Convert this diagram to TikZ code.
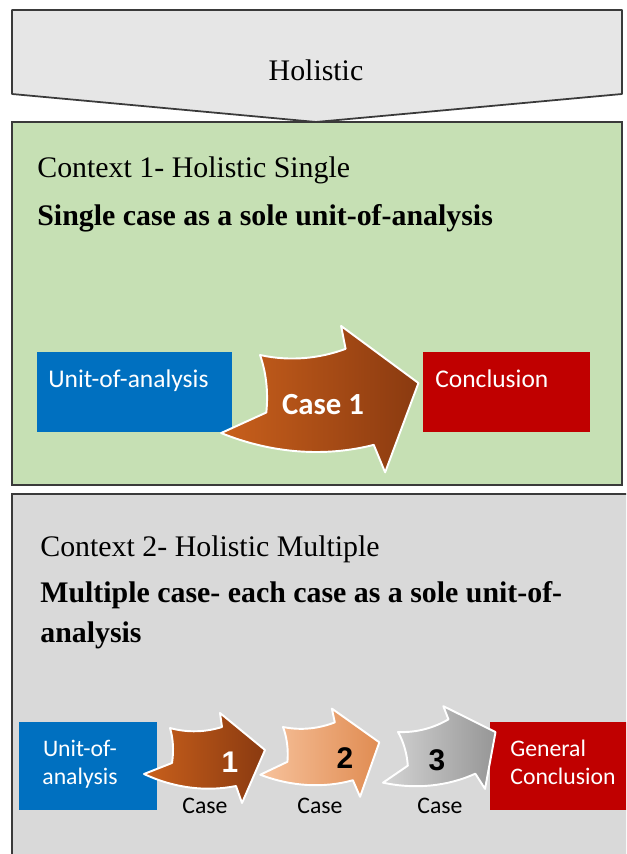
\documentclass[tikz,border=0pt]{standalone}
\usepackage{fontspec}
\setmainfont{Liberation Serif}
\newfontfamily\calibri{Carlito}
\newfontfamily\arialfont{Liberation Sans}
\usetikzlibrary{calc}

\definecolor{chevgray}{HTML}{E6E6E6}
\definecolor{ctxgreen}{HTML}{C6E0B4}
\definecolor{ctxgray}{HTML}{D9D9D9}
\definecolor{edgegray}{HTML}{3A3A3A}
\definecolor{unitblue}{HTML}{0070C0}
\definecolor{conclred}{HTML}{C00000}
\definecolor{brownA}{HTML}{C9601C}
\definecolor{brownB}{HTML}{8A3A10}
\definecolor{peachA}{HTML}{F7C29C}
\definecolor{peachB}{HTML}{E08C52}
\definecolor{greyA}{HTML}{D4D4D4}
\definecolor{greyB}{HTML}{969696}

\tikzset{
    pics/casearrow/.style={code={
        \path[draw=white, line width=1.1pt, line join=round, #1]
            (0,0) .. controls (18,5) and (36,4) .. (52,-1) -- (50,-15) -- (95,22)
            -- (72,75) -- (66,58) .. controls (36,64) and (4,60) .. (-26,46)
            -- (2,35) .. controls (4,22) and (3,10) .. (0,0) -- cycle;
    }},
}

\begin{document}
\begin{tikzpicture}[x=0.02cm, y=-0.02cm,
    every node/.style={inner sep=0pt},
    titletext/.style={font=\fontsize{17}{22.7}\selectfont, anchor=base west},
    desctext/.style={font=\bfseries\fontsize{17}{22.7}\selectfont, align=left},
    ctxbox/.style={draw=edgegray, line width=1pt},
    unitbox/.style={fill=unitblue, anchor=north west},
    conclbox/.style={fill=conclred, anchor=north west},
    boxtext/.style={text=white, font=\calibri\fontsize{14.5}{16}\selectfont},
    smalltext/.style={text=white, font=\calibri\fontsize{13.5}{16}\selectfont},
    casetext/.style={font=\calibri\fontsize{13.5}{16}\selectfont, anchor=base},
    numtext/.style={font=\arialfont\bfseries\fontsize{17}{20}\selectfont},
    brownshade/.style={left color=brownA, right color=brownB},
    peachshade/.style={left color=peachA, right color=peachB},
    greyshade/.style={left color=greyA, right color=greyB}]

    \useasboundingbox (0,0) rectangle (626,854);
    \clip (0,0) rectangle (626,854);
    \fill[white] (0,0) rectangle (626,854);

    % top chevron
    \draw[ctxbox, fill=chevgray, line join=round]
        (12,10) -- (622,10) -- (622,94) -- (316,122) -- (12,94) -- cycle;
    \node[anchor=base, font=\fontsize{17}{20}\selectfont] (holistic) at (316,81) {Holistic};

    % context 1
    \draw[ctxbox, fill=ctxgreen] (12,122) rectangle (622,485);
    \node[titletext] (ctx1title) at (37,178) {Context 1- Holistic Single};
    \node[desctext, anchor=base west] (ctx1desc) at (37,226) {Single case as a sole unit-of-analysis};

    \node[unitbox, minimum width=3.9cm, minimum height=1.6cm] (unit1) at (37,352) {};
    \node[conclbox, minimum width=3.34cm, minimum height=1.6cm] (concl1) at (423,352) {};
    \node[boxtext, anchor=base west] (unit1txt) at ($(unit1.north west)+(11,35)$) {Unit-of-analysis};
    \node[boxtext, anchor=base west] (concl1txt) at ($(concl1.north west)+(12,35)$) {Conclusion};

    \pic[scale=1.65, rotate=3] (bigarrow) at (260,355) {casearrow=brownshade};
    \node[anchor=base, text=white, font=\calibri\bfseries\fontsize{17.5}{20}\selectfont] (case1) at (323,414) {Case 1};

    % context 2
    \draw[ctxbox, fill=ctxgray] (12,494) rectangle (640,870);
    \node[titletext] (ctx2title) at (40,556) {Context 2- Holistic Multiple};
    \node[desctext, anchor=north west] (ctx2desc) at (40,581)
        {Multiple case- each case as a sole unit-of-\\analysis};

    \node[unitbox, minimum width=2.76cm, minimum height=1.76cm] (unit2) at (19,722) {};
    \node[conclbox, minimum width=2.9cm, minimum height=1.76cm] (concl2) at (490,722) {};
    \node[smalltext, align=center, anchor=north] (unit2txt) at (80,740) {Unit-of-\\analysis};
    \node[smalltext, align=left, anchor=north west] (concl2txt) at (510,740) {General\\Conclusion};

    \pic (arrow1) at (170,728) {casearrow=brownshade};
    \pic[rotate=4] (arrow2) at (283,727) {casearrow=peachshade};
    \pic[rotate=13] (arrow3) at (398,732) {casearrow=greyshade};

    \node[numtext, text=white] (num1) at (230,762) {1};
    \node[numtext] (num2) at (345,758) {2};
    \node[numtext] (num3) at (437,760) {3};

    \node[casetext] (lab1) at (205,813) {Case};
    \node[casetext] (lab2) at (320,813) {Case};
    \node[casetext] (lab3) at (440,813) {Case};
\end{tikzpicture}
\end{document}
